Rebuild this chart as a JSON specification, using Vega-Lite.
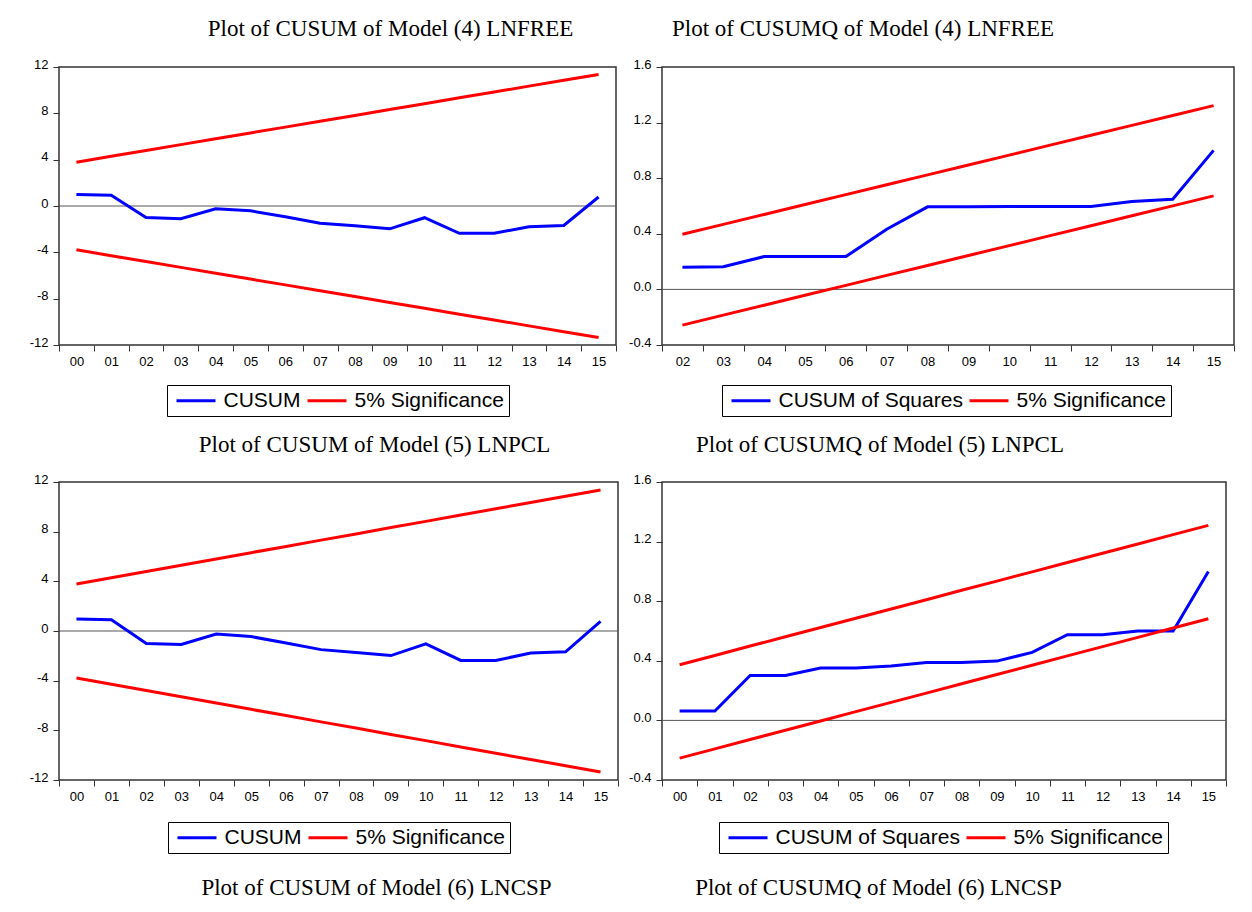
{
  "$schema": "https://vega.github.io/schema/vega-lite/v6.json",
  "background": "white",
  "padding": {"left": 28, "top": 17, "right": 0, "bottom": 0},
  "config": {
    "view": {"stroke": "#333333", "strokeWidth": 1.5},
    "axis": {"domain": false, "grid": false, "labelFont": "Liberation Sans", "labelFontSize": 13, "labelColor": "#000000", "tickColor": "#333333", "tickSize": 6, "tickWidth": 1},
    "title": {"font": "Liberation Serif", "fontSize": 23, "fontWeight": "normal", "color": "#000000", "anchor": "middle", "baseline": "alphabetic"},
    "legend": {"orient": "none", "direction": "horizontal", "title": null, "strokeColor": "#000000", "strokeWidth": 1, "fillColor": "white", "padding": 5, "symbolType": "M-3,0H3", "symbolSize": 169, "symbolStrokeWidth": 3, "symbolOffset": 13.5, "labelOffset": 17, "labelLimit": 400, "labelFont": "Liberation Sans", "labelFontSize": 21, "labelColor": "#000000", "columnPadding": 0}
  },
  "datasets": {
    "m4cusum": [
      {"year":"00","series":"CUSUM","line":"c","value":1.00},{"year":"01","series":"CUSUM","line":"c","value":0.93},{"year":"02","series":"CUSUM","line":"c","value":-0.99},{"year":"03","series":"CUSUM","line":"c","value":-1.09},{"year":"04","series":"CUSUM","line":"c","value":-0.24},{"year":"05","series":"CUSUM","line":"c","value":-0.42},{"year":"06","series":"CUSUM","line":"c","value":-0.92},{"year":"07","series":"CUSUM","line":"c","value":-1.48},{"year":"08","series":"CUSUM","line":"c","value":-1.71},{"year":"09","series":"CUSUM","line":"c","value":-1.97},{"year":"10","series":"CUSUM","line":"c","value":-1.01},{"year":"11","series":"CUSUM","line":"c","value":-2.36},{"year":"12","series":"CUSUM","line":"c","value":-2.36},{"year":"13","series":"CUSUM","line":"c","value":-1.79},{"year":"14","series":"CUSUM","line":"c","value":-1.68},{"year":"15","series":"CUSUM","line":"c","value":0.78},
      {"year":"00","series":"5% Significance","line":"u","value":3.78},{"year":"01","series":"5% Significance","line":"u","value":4.29},{"year":"02","series":"5% Significance","line":"u","value":4.79},{"year":"03","series":"5% Significance","line":"u","value":5.30},{"year":"04","series":"5% Significance","line":"u","value":5.80},{"year":"05","series":"5% Significance","line":"u","value":6.31},{"year":"06","series":"5% Significance","line":"u","value":6.81},{"year":"07","series":"5% Significance","line":"u","value":7.32},{"year":"08","series":"5% Significance","line":"u","value":7.82},{"year":"09","series":"5% Significance","line":"u","value":8.33},{"year":"10","series":"5% Significance","line":"u","value":8.83},{"year":"11","series":"5% Significance","line":"u","value":9.34},{"year":"12","series":"5% Significance","line":"u","value":9.84},{"year":"13","series":"5% Significance","line":"u","value":10.35},{"year":"14","series":"5% Significance","line":"u","value":10.85},{"year":"15","series":"5% Significance","line":"u","value":11.36},
      {"year":"00","series":"5% Significance","line":"l","value":-3.78},{"year":"01","series":"5% Significance","line":"l","value":-4.29},{"year":"02","series":"5% Significance","line":"l","value":-4.79},{"year":"03","series":"5% Significance","line":"l","value":-5.30},{"year":"04","series":"5% Significance","line":"l","value":-5.80},{"year":"05","series":"5% Significance","line":"l","value":-6.31},{"year":"06","series":"5% Significance","line":"l","value":-6.81},{"year":"07","series":"5% Significance","line":"l","value":-7.32},{"year":"08","series":"5% Significance","line":"l","value":-7.82},{"year":"09","series":"5% Significance","line":"l","value":-8.33},{"year":"10","series":"5% Significance","line":"l","value":-8.83},{"year":"11","series":"5% Significance","line":"l","value":-9.34},{"year":"12","series":"5% Significance","line":"l","value":-9.84},{"year":"13","series":"5% Significance","line":"l","value":-10.35},{"year":"14","series":"5% Significance","line":"l","value":-10.85},{"year":"15","series":"5% Significance","line":"l","value":-11.36}
    ],
    "m5cusum": [
      {"year":"00","series":"CUSUM","line":"c","value":0.96},{"year":"01","series":"CUSUM","line":"c","value":0.90},{"year":"02","series":"CUSUM","line":"c","value":-1.01},{"year":"03","series":"CUSUM","line":"c","value":-1.09},{"year":"04","series":"CUSUM","line":"c","value":-0.24},{"year":"05","series":"CUSUM","line":"c","value":-0.45},{"year":"06","series":"CUSUM","line":"c","value":-0.97},{"year":"07","series":"CUSUM","line":"c","value":-1.50},{"year":"08","series":"CUSUM","line":"c","value":-1.73},{"year":"09","series":"CUSUM","line":"c","value":-1.98},{"year":"10","series":"CUSUM","line":"c","value":-1.04},{"year":"11","series":"CUSUM","line":"c","value":-2.37},{"year":"12","series":"CUSUM","line":"c","value":-2.37},{"year":"13","series":"CUSUM","line":"c","value":-1.78},{"year":"14","series":"CUSUM","line":"c","value":-1.68},{"year":"15","series":"CUSUM","line":"c","value":0.78},
      {"year":"00","series":"5% Significance","line":"u","value":3.78},{"year":"01","series":"5% Significance","line":"u","value":4.29},{"year":"02","series":"5% Significance","line":"u","value":4.79},{"year":"03","series":"5% Significance","line":"u","value":5.30},{"year":"04","series":"5% Significance","line":"u","value":5.80},{"year":"05","series":"5% Significance","line":"u","value":6.31},{"year":"06","series":"5% Significance","line":"u","value":6.81},{"year":"07","series":"5% Significance","line":"u","value":7.32},{"year":"08","series":"5% Significance","line":"u","value":7.82},{"year":"09","series":"5% Significance","line":"u","value":8.33},{"year":"10","series":"5% Significance","line":"u","value":8.83},{"year":"11","series":"5% Significance","line":"u","value":9.34},{"year":"12","series":"5% Significance","line":"u","value":9.84},{"year":"13","series":"5% Significance","line":"u","value":10.35},{"year":"14","series":"5% Significance","line":"u","value":10.85},{"year":"15","series":"5% Significance","line":"u","value":11.36},
      {"year":"00","series":"5% Significance","line":"l","value":-3.78},{"year":"01","series":"5% Significance","line":"l","value":-4.29},{"year":"02","series":"5% Significance","line":"l","value":-4.79},{"year":"03","series":"5% Significance","line":"l","value":-5.30},{"year":"04","series":"5% Significance","line":"l","value":-5.80},{"year":"05","series":"5% Significance","line":"l","value":-6.31},{"year":"06","series":"5% Significance","line":"l","value":-6.81},{"year":"07","series":"5% Significance","line":"l","value":-7.32},{"year":"08","series":"5% Significance","line":"l","value":-7.82},{"year":"09","series":"5% Significance","line":"l","value":-8.33},{"year":"10","series":"5% Significance","line":"l","value":-8.83},{"year":"11","series":"5% Significance","line":"l","value":-9.34},{"year":"12","series":"5% Significance","line":"l","value":-9.84},{"year":"13","series":"5% Significance","line":"l","value":-10.35},{"year":"14","series":"5% Significance","line":"l","value":-10.85},{"year":"15","series":"5% Significance","line":"l","value":-11.36}
    ],
    "m4cusumq": [
      {"year":"02","series":"CUSUM of Squares","line":"c","value":0.159},{"year":"03","series":"CUSUM of Squares","line":"c","value":0.163},{"year":"04","series":"CUSUM of Squares","line":"c","value":0.236},{"year":"05","series":"CUSUM of Squares","line":"c","value":0.236},{"year":"06","series":"CUSUM of Squares","line":"c","value":0.236},{"year":"07","series":"CUSUM of Squares","line":"c","value":0.433},{"year":"08","series":"CUSUM of Squares","line":"c","value":0.594},{"year":"09","series":"CUSUM of Squares","line":"c","value":0.594},{"year":"10","series":"CUSUM of Squares","line":"c","value":0.596},{"year":"11","series":"CUSUM of Squares","line":"c","value":0.596},{"year":"12","series":"CUSUM of Squares","line":"c","value":0.596},{"year":"13","series":"CUSUM of Squares","line":"c","value":0.632},{"year":"14","series":"CUSUM of Squares","line":"c","value":0.649},{"year":"15","series":"CUSUM of Squares","line":"c","value":1.0},
      {"year":"02","series":"5% Significance","line":"u","value":0.397},{"year":"03","series":"5% Significance","line":"u","value":0.468},{"year":"04","series":"5% Significance","line":"u","value":0.539},{"year":"05","series":"5% Significance","line":"u","value":0.611},{"year":"06","series":"5% Significance","line":"u","value":0.682},{"year":"07","series":"5% Significance","line":"u","value":0.753},{"year":"08","series":"5% Significance","line":"u","value":0.824},{"year":"09","series":"5% Significance","line":"u","value":0.895},{"year":"10","series":"5% Significance","line":"u","value":0.966},{"year":"11","series":"5% Significance","line":"u","value":1.038},{"year":"12","series":"5% Significance","line":"u","value":1.109},{"year":"13","series":"5% Significance","line":"u","value":1.180},{"year":"14","series":"5% Significance","line":"u","value":1.251},{"year":"15","series":"5% Significance","line":"u","value":1.322},
      {"year":"02","series":"5% Significance","line":"l","value":-0.257},{"year":"03","series":"5% Significance","line":"l","value":-0.185},{"year":"04","series":"5% Significance","line":"l","value":-0.114},{"year":"05","series":"5% Significance","line":"l","value":-0.042},{"year":"06","series":"5% Significance","line":"l","value":0.029},{"year":"07","series":"5% Significance","line":"l","value":0.101},{"year":"08","series":"5% Significance","line":"l","value":0.172},{"year":"09","series":"5% Significance","line":"l","value":0.244},{"year":"10","series":"5% Significance","line":"l","value":0.315},{"year":"11","series":"5% Significance","line":"l","value":0.387},{"year":"12","series":"5% Significance","line":"l","value":0.458},{"year":"13","series":"5% Significance","line":"l","value":0.530},{"year":"14","series":"5% Significance","line":"l","value":0.601},{"year":"15","series":"5% Significance","line":"l","value":0.673}
    ],
    "m5cusumq": [
      {"year":"00","series":"CUSUM of Squares","line":"c","value":0.063},{"year":"01","series":"CUSUM of Squares","line":"c","value":0.063},{"year":"02","series":"CUSUM of Squares","line":"c","value":0.302},{"year":"03","series":"CUSUM of Squares","line":"c","value":0.302},{"year":"04","series":"CUSUM of Squares","line":"c","value":0.351},{"year":"05","series":"CUSUM of Squares","line":"c","value":0.351},{"year":"06","series":"CUSUM of Squares","line":"c","value":0.365},{"year":"07","series":"CUSUM of Squares","line":"c","value":0.389},{"year":"08","series":"CUSUM of Squares","line":"c","value":0.389},{"year":"09","series":"CUSUM of Squares","line":"c","value":0.398},{"year":"10","series":"CUSUM of Squares","line":"c","value":0.456},{"year":"11","series":"CUSUM of Squares","line":"c","value":0.575},{"year":"12","series":"CUSUM of Squares","line":"c","value":0.575},{"year":"13","series":"CUSUM of Squares","line":"c","value":0.600},{"year":"14","series":"CUSUM of Squares","line":"c","value":0.600},{"year":"15","series":"CUSUM of Squares","line":"c","value":1.0},
      {"year":"00","series":"5% Significance","line":"u","value":0.374},{"year":"01","series":"5% Significance","line":"u","value":0.436},{"year":"02","series":"5% Significance","line":"u","value":0.499},{"year":"03","series":"5% Significance","line":"u","value":0.561},{"year":"04","series":"5% Significance","line":"u","value":0.623},{"year":"05","series":"5% Significance","line":"u","value":0.686},{"year":"06","series":"5% Significance","line":"u","value":0.748},{"year":"07","series":"5% Significance","line":"u","value":0.810},{"year":"08","series":"5% Significance","line":"u","value":0.873},{"year":"09","series":"5% Significance","line":"u","value":0.935},{"year":"10","series":"5% Significance","line":"u","value":0.997},{"year":"11","series":"5% Significance","line":"u","value":1.060},{"year":"12","series":"5% Significance","line":"u","value":1.122},{"year":"13","series":"5% Significance","line":"u","value":1.184},{"year":"14","series":"5% Significance","line":"u","value":1.247},{"year":"15","series":"5% Significance","line":"u","value":1.309},
      {"year":"00","series":"5% Significance","line":"l","value":-0.253},{"year":"01","series":"5% Significance","line":"l","value":-0.191},{"year":"02","series":"5% Significance","line":"l","value":-0.128},{"year":"03","series":"5% Significance","line":"l","value":-0.066},{"year":"04","series":"5% Significance","line":"l","value":-0.004},{"year":"05","series":"5% Significance","line":"l","value":0.059},{"year":"06","series":"5% Significance","line":"l","value":0.121},{"year":"07","series":"5% Significance","line":"l","value":0.183},{"year":"08","series":"5% Significance","line":"l","value":0.246},{"year":"09","series":"5% Significance","line":"l","value":0.308},{"year":"10","series":"5% Significance","line":"l","value":0.370},{"year":"11","series":"5% Significance","line":"l","value":0.433},{"year":"12","series":"5% Significance","line":"l","value":0.495},{"year":"13","series":"5% Significance","line":"l","value":0.557},{"year":"14","series":"5% Significance","line":"l","value":0.620},{"year":"15","series":"5% Significance","line":"l","value":0.682}
    ]
  },
  "spacing": 15,
  "resolve": {"scale": {"x": "independent", "y": "independent", "color": "independent"}, "legend": {"color": "independent"}, "axis": {"x": "independent", "y": "independent"}},
  "vconcat": [
    {
      "spacing": 9,
      "resolve": {"scale": {"x": "independent", "y": "independent", "color": "independent"}, "legend": {"color": "independent"}, "axis": {"x": "independent", "y": "independent"}},
      "hconcat": [
        {
          "width": 557, "height": 278,
          "title": {"text": "Plot of CUSUM of Model (4) LNFREE", "dx": 53, "offset": 17},
          "layer": [
            {"data": {"values": [{"zero": 0}]}, "mark": {"type": "rule", "color": "#555555", "strokeWidth": 1}, "encoding": {"y": {"field": "zero", "type": "quantitative"}}},
            {"data": {"name": "m4cusum"}, "mark": {"type": "line", "strokeWidth": 3},
             "encoding": {
               "x": {"field": "year", "type": "ordinal", "bandPosition": 0.5, "scale": {"type": "band", "paddingInner": 0, "paddingOuter": 0}, "axis": {"title": null, "labelAngle": 0, "tickBand": "extent", "labelPadding": 4}},
               "y": {"field": "value", "type": "quantitative", "scale": {"domain": [-12, 12], "nice": false, "zero": false}, "axis": {"title": null, "values": [-12, -8, -4, 0, 4, 8, 12], "labelPadding": 5, "labelBaseline": "middle", "labelOffset": -3, "labelExpr": "replace(format(datum.value, 'd'), '\u2212', '-')"}},
               "color": {"field": "series", "type": "nominal", "scale": {"domain": ["CUSUM", "5% Significance"], "range": ["#0000FF", "#FF0000"]}, "legend": {"legendX": 108, "legendY": 318}},
               "detail": {"field": "line"}
             }}
          ]
        },
        {
          "width": 572, "height": 278,
          "title": {"text": "Plot of CUSUMQ of Model (4) LNFREE", "dx": -85, "offset": 17},
          "layer": [
            {"data": {"values": [{"zero": 0}]}, "mark": {"type": "rule", "color": "#555555", "strokeWidth": 1}, "encoding": {"y": {"field": "zero", "type": "quantitative"}}},
            {"data": {"name": "m4cusumq"}, "mark": {"type": "line", "strokeWidth": 3},
             "encoding": {
               "x": {"field": "year", "type": "ordinal", "bandPosition": 0.5, "scale": {"type": "band", "paddingInner": 0, "paddingOuter": 0}, "axis": {"title": null, "labelAngle": 0, "tickBand": "extent", "labelPadding": 4}},
               "y": {"field": "value", "type": "quantitative", "scale": {"domain": [-0.4, 1.6], "nice": false, "zero": false}, "axis": {"title": null, "values": [-0.4, 0, 0.4, 0.8, 1.2, 1.6], "labelPadding": 5, "labelBaseline": "middle", "labelOffset": -3, "labelExpr": "replace(format(datum.value, '.1f'), '\u2212', '-')"}},
               "color": {"field": "series", "type": "nominal", "scale": {"domain": ["CUSUM of Squares", "5% Significance"], "range": ["#0000FF", "#FF0000"]}, "legend": {"legendX": 60, "legendY": 318}},
               "detail": {"field": "line"}
             }}
          ]
        }
      ]
    },
    {
      "spacing": 7,
      "resolve": {"scale": {"x": "independent", "y": "independent", "color": "independent"}, "legend": {"color": "independent"}, "axis": {"x": "independent", "y": "independent"}},
      "hconcat": [
        {
          "width": 559, "height": 298,
          "title": {"text": "Plot of CUSUM of Model (5) LNPCL", "dx": 36, "offset": 16},
          "layer": [
            {"data": {"values": [{"zero": 0}]}, "mark": {"type": "rule", "color": "#555555", "strokeWidth": 1}, "encoding": {"y": {"field": "zero", "type": "quantitative"}}},
            {"data": {"name": "m5cusum"}, "mark": {"type": "line", "strokeWidth": 3},
             "encoding": {
               "x": {"field": "year", "type": "ordinal", "bandPosition": 0.5, "scale": {"type": "band", "paddingInner": 0, "paddingOuter": 0}, "axis": {"title": "Plot of CUSUM of Model (6) LNCSP", "titleFont": "Liberation Serif", "titleFontSize": 23, "titleFontWeight": "normal", "titleColor": "#000000", "titlePadding": 73, "titleX": 317, "labelAngle": 0, "tickBand": "extent", "labelPadding": 4}},
               "y": {"field": "value", "type": "quantitative", "scale": {"domain": [-12, 12], "nice": false, "zero": false}, "axis": {"title": null, "values": [-12, -8, -4, 0, 4, 8, 12], "labelPadding": 5, "labelBaseline": "middle", "labelOffset": -3, "labelExpr": "replace(format(datum.value, 'd'), '\u2212', '-')"}},
               "color": {"field": "series", "type": "nominal", "scale": {"domain": ["CUSUM", "5% Significance"], "range": ["#0000FF", "#FF0000"]}, "legend": {"legendX": 109, "legendY": 340}},
               "detail": {"field": "line"}
             }}
          ]
        },
        {
          "width": 564, "height": 298,
          "title": {"text": "Plot of CUSUMQ of Model (5) LNPCL", "dx": -64, "offset": 16},
          "layer": [
            {"data": {"values": [{"zero": 0}]}, "mark": {"type": "rule", "color": "#555555", "strokeWidth": 1}, "encoding": {"y": {"field": "zero", "type": "quantitative"}}},
            {"data": {"name": "m5cusumq"}, "mark": {"type": "line", "strokeWidth": 3},
             "encoding": {
               "x": {"field": "year", "type": "ordinal", "bandPosition": 0.5, "scale": {"type": "band", "paddingInner": 0, "paddingOuter": 0}, "axis": {"title": "Plot of CUSUMQ of Model (6) LNCSP", "titleFont": "Liberation Serif", "titleFontSize": 23, "titleFontWeight": "normal", "titleColor": "#000000", "titlePadding": 73, "titleX": 216, "labelAngle": 0, "tickBand": "extent", "labelPadding": 4}},
               "y": {"field": "value", "type": "quantitative", "scale": {"domain": [-0.4, 1.6], "nice": false, "zero": false}, "axis": {"title": null, "values": [-0.4, 0, 0.4, 0.8, 1.2, 1.6], "labelPadding": 5, "labelBaseline": "middle", "labelOffset": -3, "labelExpr": "replace(format(datum.value, '.1f'), '\u2212', '-')"}},
               "color": {"field": "series", "type": "nominal", "scale": {"domain": ["CUSUM of Squares", "5% Significance"], "range": ["#0000FF", "#FF0000"]}, "legend": {"legendX": 57, "legendY": 340}},
               "detail": {"field": "line"}
             }}
          ]
        }
      ]
    }
  ]
}
